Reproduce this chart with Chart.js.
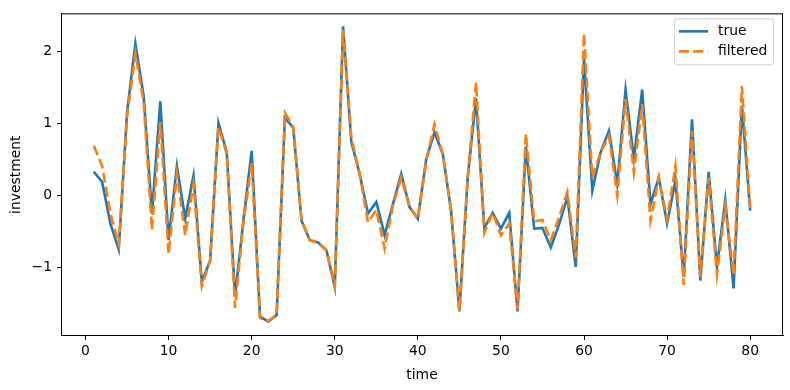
<!DOCTYPE html>
<html>
<head>
<meta charset="utf-8">
<script src="https://cdn.jsdelivr.net/npm/chart.js@4.4.0/dist/chart.umd.min.js"></script>
<style>
  html, body { margin: 0; padding: 0; background: #fff; }
  #wrap { width: 790px; height: 390px; }
</style>
</head>
<body>
<div id="wrap"><canvas id="grafico"></canvas></div>
<script>
// Datos
const tiempo = Array.from({ length: 80 }, (_, i) => i + 1);

const valoresReales = [
    0.33, 0.19, -0.39, -0.75, 1.15, 2.11, 1.38, -0.25, 1.31, -0.62,
    0.41, -0.32, 0.28, -1.2, -0.9, 1.01, 0.6, -1.4, -0.35, 0.62,
    -1.68, -1.75, -1.66, 1.08, 0.94, -0.35, -0.62, -0.65, -0.76, -1.27,
    2.35, 0.74, 0.3, -0.25, -0.09, -0.55, -0.12, 0.3, -0.16, -0.32,
    0.5, 0.88, 0.58, -0.21, -1.61, 0.25, 1.35, -0.45, -0.24, -0.46,
    -0.24, -1.61, 0.68, -0.46, -0.45, -0.72, -0.4, -0.02, -0.99, 1.9,
    0.07, 0.6, 0.9, 0.16, 1.47, 0.51, 1.47, -0.12, 0.25, -0.39,
    0.21, -1.13, 1.06, -1.18, 0.33, -0.99, -0.06, -1.29, 1.25, -0.21
];

const valoresFiltrados = [
    0.69, 0.41, -0.25, -0.68, 1.1, 1.97, 1.3, -0.48, 1.02, -0.81,
    0.3, -0.55, 0.16, -1.26, -0.9, 0.95, 0.58, -1.56, -0.38, 0.45,
    -1.7, -1.74, -1.66, 1.15, 0.95, -0.35, -0.62, -0.66, -0.76, -1.26,
    2.3, 0.8, 0.3, -0.37, -0.2, -0.74, -0.14, 0.25, -0.16, -0.32,
    0.48, 0.99, 0.58, -0.21, -1.6, 0.25, 1.57, -0.52, -0.24, -0.55,
    -0.39, -1.58, 0.86, -0.36, -0.34, -0.62, -0.3, 0.05, -0.86, 2.25,
    0.25, 0.6, 0.83, 0.0, 1.34, 0.32, 1.27, -0.35, 0.25, -0.33,
    0.41, -1.24, 0.9, -1.13, 0.25, -1.1, -0.15, -1.1, 1.52, -0.18
];

const ticksX = [0, 10, 20, 30, 40, 50, 60, 70, 80];
const ticksY = [-1, 0, 1, 2];

const AZUL = '#1f77b4';
const NARANJA = '#ff7f0e';
const FUENTE = '"DejaVu Sans", sans-serif';
const GROSOR = 2.6;
const GUION = [10, 4.3];

// Marco completo y leyenda estilo matplotlib
const marcoYLeyenda = {
    id: 'marcoYLeyenda',
    afterDraw(chart) {
        const { ctx, chartArea: a } = chart;
        ctx.save();
        ctx.strokeStyle = '#000';
        ctx.lineWidth = 1;
        ctx.strokeRect(a.left + 0.5, a.top + 0.5, a.right - a.left - 1, a.bottom - a.top - 1);

        // leyenda
        const x = a.right - 109, y = a.top + 5, w = 99, h = 46;
        ctx.fillStyle = 'rgba(255,255,255,0.8)';
        ctx.strokeStyle = '#d0d0d0';
        ctx.beginPath();
        ctx.roundRect(x + 0.5, y + 0.5, w, h, 3);
        ctx.fill();
        ctx.stroke();

        ctx.lineWidth = GROSOR;
        ctx.strokeStyle = AZUL;
        ctx.beginPath();
        ctx.moveTo(x + 5, y + 13);
        ctx.lineTo(x + 34, y + 13);
        ctx.stroke();

        ctx.strokeStyle = NARANJA;
        ctx.setLineDash(GUION);
        ctx.beginPath();
        ctx.moveTo(x + 5, y + 33);
        ctx.lineTo(x + 34, y + 33);
        ctx.stroke();
        ctx.setLineDash([]);

        ctx.fillStyle = '#000';
        ctx.font = '13.9px ' + FUENTE;
        ctx.textBaseline = 'middle';
        ctx.fillText('true', x + 44, y + 13);
        ctx.fillText('filtered', x + 44, y + 33);
        ctx.restore();
    }
};

function crearGrafico() {
    const ctx = document.getElementById('grafico');
    if (!ctx) {
        console.error('No se encontró el canvas');
        return;
    }

    const datos = {
        datasets: [{
            label: 'true',
            data: tiempo.map((t, i) => ({ x: t, y: valoresReales[i] })),
            borderColor: AZUL,
            borderWidth: GROSOR,
            pointRadius: 0,
            tension: 0,
            fill: false,
            order: 2
        }, {
            label: 'filtered',
            data: tiempo.map((t, i) => ({ x: t, y: valoresFiltrados[i] })),
            borderColor: NARANJA,
            borderWidth: GROSOR,
            borderDash: GUION,
            pointRadius: 0,
            tension: 0,
            fill: false,
            order: 1
        }]
    };

    const opciones = {
        responsive: true,
        maintainAspectRatio: false,
        animation: false,
        layout: { padding: { top: 12, right: 7, left: 0, bottom: 0 } },
        plugins: {
            legend: { display: false },
            tooltip: { enabled: false }
        },
        scales: {
            x: {
                type: 'linear',
                min: -2.95,
                max: 83.95,
                afterBuildTicks: (s) => { s.ticks = ticksX.map(v => ({ value: v })); },
                afterFit: (s) => { s.height = 54; },
                grid: { display: true, drawOnChartArea: false, drawTicks: true, tickLength: 4, color: '#000' },
                border: { display: true, color: '#000' },
                ticks: { color: '#000', padding: 3, maxRotation: 0, font: { family: FUENTE, size: 13.9 } },
                title: { display: true, text: 'time', color: '#000', padding: { top: 0, bottom: 6 }, font: { family: FUENTE, size: 13.9 } }
            },
            y: {
                min: -1.95,
                max: 2.53,
                afterBuildTicks: (s) => { s.ticks = ticksY.map(v => ({ value: v })); },
                afterFit: (s) => { s.width = 61; },
                grid: { display: true, drawOnChartArea: false, drawTicks: true, tickLength: 4, color: '#000' },
                border: { display: true, color: '#000' },
                ticks: {
                    color: '#000',
                    padding: 5,
                    font: { family: FUENTE, size: 13.9 },
                    callback: (v) => String(v).replace('-', '\u2212')
                },
                title: { display: true, text: 'investment', color: '#000', padding: { top: 8, bottom: 0 }, font: { family: FUENTE, size: 13.9 } }
            }
        }
    };

    try {
        new Chart(ctx, { type: 'line', data: datos, options: opciones, plugins: [marcoYLeyenda] });
    } catch (error) {
        console.error('Error al crear el gráfico:', error);
    }
}

crearGrafico();
</script>
</body>
</html>
